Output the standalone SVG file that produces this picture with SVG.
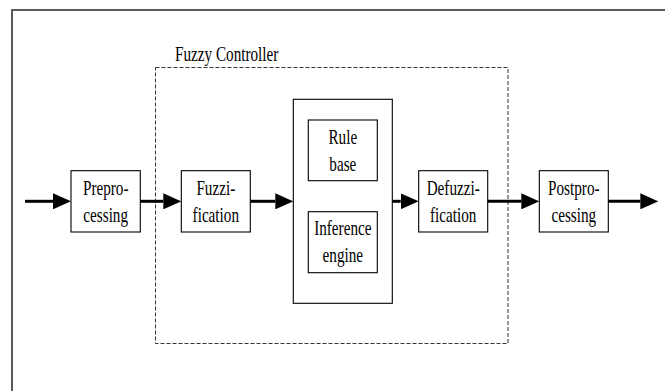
<svg xmlns="http://www.w3.org/2000/svg" width="665" height="391" viewBox="0 0 665 391" overflow="hidden">
  <style>
    .box { fill: #ffffff; stroke: #000000; stroke-width: 1.1; }
    .frame { fill: none; stroke: #5a5a5a; stroke-width: 2; }
    .group { fill: none; stroke: #333333; stroke-width: 1; stroke-dasharray: 4 2; }
    .flow { fill: none; stroke: #000000; stroke-width: 3; }
    .lbl { font-family: "Liberation Serif", "Times New Roman", serif; font-size: 20px; fill: #000000; text-anchor: middle; }
    .title { font-family: "Liberation Serif", "Times New Roman", serif; font-size: 20px; fill: #000000; }
  </style>
  <defs>
    <marker id="head" markerUnits="userSpaceOnUse" markerWidth="18" markerHeight="16" refX="0" refY="8" orient="auto">
      <path d="M0,0 L18,8 L0,16 Z" fill="#000000"/>
    </marker>
  </defs>

  <rect width="665" height="391" fill="#ffffff"/>

  <!-- outer frame: only its left and top sides fall inside the canvas -->
  <path class="frame" d="M12,391 L12,10 L665,10"/>

  <!-- fuzzy controller boundary -->
  <g id="fuzzy-controller">
    <rect class="group" x="155.5" y="67.5" width="352.5" height="276"/>
    <text class="title" transform="translate(175,61) scale(0.76,1)" x="0" y="0">Fuzzy Controller</text>
  </g>

  <g id="preprocessing">
    <rect class="box" x="71" y="170.7" width="69.3" height="61.3"/>
    <text class="lbl" transform="translate(105.7,195) scale(0.76,1)"><tspan x="0" y="0">Prepro-</tspan><tspan x="0" y="27.5">cessing</tspan></text>
  </g>

  <g id="fuzzification">
    <rect class="box" x="181.3" y="170.7" width="69" height="61.3"/>
    <text class="lbl" transform="translate(215.8,195) scale(0.76,1)"><tspan x="0" y="0">Fuzzi-</tspan><tspan x="0" y="27.5">fication</tspan></text>
  </g>

  <g id="inference-system">
    <rect class="box" x="293.3" y="99.3" width="99" height="204"/>
    <g id="rule-base">
      <rect class="box" x="308.3" y="120" width="69" height="60.7"/>
      <text class="lbl" transform="translate(342.8,144) scale(0.76,1)"><tspan x="0" y="0">Rule</tspan><tspan x="0" y="26.7">base</tspan></text>
    </g>
    <g id="inference-engine">
      <rect class="box" x="308.3" y="211.7" width="69" height="61"/>
      <text class="lbl" transform="translate(342.8,235) scale(0.76,1)"><tspan x="0" y="0">Inference</tspan><tspan x="0" y="26.7">engine</tspan></text>
    </g>
  </g>

  <g id="defuzzification">
    <rect class="box" x="418.7" y="170.7" width="69" height="61.3"/>
    <text class="lbl" transform="translate(453.2,195) scale(0.76,1)"><tspan x="0" y="0">Defuzzi-</tspan><tspan x="0" y="27.5">fication</tspan></text>
  </g>

  <g id="postprocessing">
    <rect class="box" x="539.3" y="170.7" width="69" height="61.3"/>
    <text class="lbl" transform="translate(573.8,195) scale(0.76,1)"><tspan x="0" y="0">Postpro-</tspan><tspan x="0" y="27.5">cessing</tspan></text>
  </g>

  <!-- signal flow; each line stops where its arrowhead begins -->
  <g id="connectors">
    <line class="flow" x1="25" y1="201.3" x2="53" y2="201.3" marker-end="url(#head)"/>
    <line class="flow" x1="140.3" y1="201.3" x2="163.3" y2="201.3" marker-end="url(#head)"/>
    <line class="flow" x1="250.3" y1="201.3" x2="275.3" y2="201.3" marker-end="url(#head)"/>
    <line class="flow" x1="392.3" y1="201.3" x2="400.7" y2="201.3" marker-end="url(#head)"/>
    <line class="flow" x1="487.7" y1="201.3" x2="521.3" y2="201.3" marker-end="url(#head)"/>
    <line class="flow" x1="608.3" y1="201.3" x2="640.3" y2="201.3" marker-end="url(#head)"/>
  </g>
</svg>
